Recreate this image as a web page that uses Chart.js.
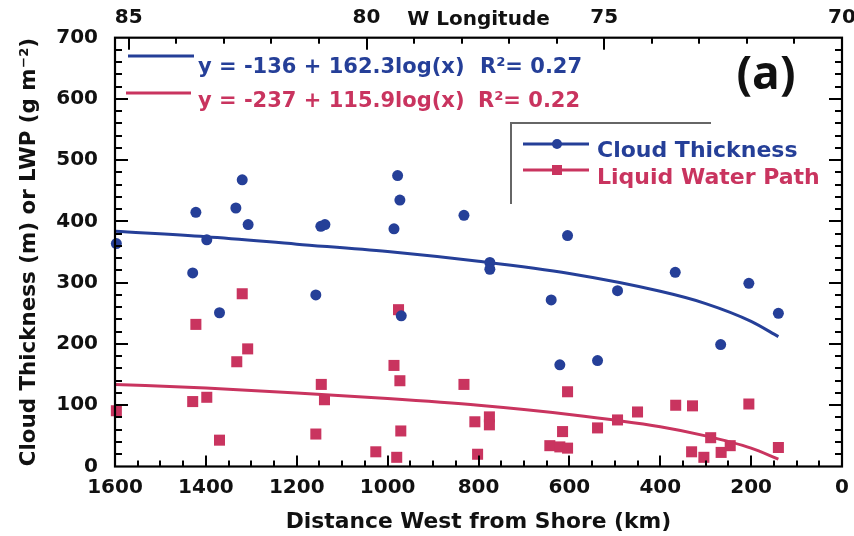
<!DOCTYPE html>
<html><head><meta charset="utf-8">
<script src="https://cdn.jsdelivr.net/npm/chart.js@4.4.1/dist/chart.umd.min.js"></script>
<style>html,body{margin:0;padding:0;background:#fff;overflow:hidden}</style>
</head><body><canvas id="c" width="854" height="536"></canvas>
<script>
// ---- data ----
const thicknessKm = [1597,1422,1320,1334,1307,1398,1429,1370,1147,1138,1158,978,973,986,832,604,775,775,640,970,367,205,494,140,267,621,538];
const thicknessM  = [364,415,468,422,395,370,316,251,392,395,280,475,435,388,410,377,333,322,272,246,317,299,287,250,199,166,173];
const lwpKm = [1320,1422,1308,1332,1597,1429,1398,1370,1146,1139,1158,976,986,973,971,980,1026,832,808,776,776,802,604,615,643,621,604,450,366,329,205,494,538,289,331,304,266,246,140];
const lwpG  = [282,232,192,171,91,106,113,43,134,109,53,256,165,140,58,15,24,134,73,81,68,20,122,57,34,32,30,89,100,99,102,76,63,47,24,15,23,34,31];
const fitKm = [1600,1400,1200,1000,800,600,400,300,200,140];
const thicknessFit = [384,375,363,351,335,315,286,266,237,212];
const lwpFit = [134,128,120,111,100,85,65,50,30,12];
const xTicks = [1600,1400,1200,1000,800,600,400,200,0];
const yTicks = [0,100,200,300,400,500,600,700];
const lonTicks = [85,80,75,70];
const seriesNames = ['Cloud Thickness','Liquid Water Path'];
const fitEquations = ['y = -136 + 162.3log(x)','y = -237 + 115.9log(x)'];
const fitR2 = ['R\u00B2= 0.27','R\u00B2= 0.22'];

const F = "'DejaVu Sans', sans-serif";
const BLUE = '#253f98';
const RED = '#c9345f';
const INK = '#111';

const pts = (xs, ys) => xs.map((x, i) => ({x, y: ys[i]}));

function drawTickMarks(chart) {
  const {ctx, chartArea: a, scales} = chart;
  const sx = scales.x, sx2 = scales.x2, sy = scales.y;
  ctx.save();
  ctx.setLineDash([]);
  ctx.globalAlpha = 1;
  ctx.lineCap = 'butt';
  ctx.fillStyle = '#000';
  // tick marks as filled rectangles (inward)
  for (let v = 50; v < 1600; v += 50) {
    const px = Math.round(sx.getPixelForValue(v));
    const len = (v % 200 === 0) ? 11 : 6;
    ctx.fillRect(px - 1, a.bottom - len, 2, len);
  }
  for (let v = 71; v <= 85; v++) {
    const px = Math.round(sx2.getPixelForValue(v));
    const len = (v % 5 === 0) ? 12 : 6;
    ctx.fillRect(px - 1, a.top, 2, len);
  }
  for (let v = 20; v < 700; v += 20) {
    const py = Math.round(sy.getPixelForValue(v));
    const len = (v % 100 === 0) ? 13 : 7;
    ctx.fillRect(a.left, py - 1, len, 2);
    ctx.fillRect(a.right - len, py - 1, len, 2);
  }
  ctx.strokeStyle = '#000';
  ctx.lineWidth = 2.2;
  ctx.strokeRect(a.left, a.top, a.right - a.left, a.bottom - a.top);
  ctx.restore();
}

const framePlugin = {
  id: 'frame',
  afterDraw(chart) {
    drawTickMarks(chart);
    const {ctx, scales} = chart;
    ctx.save();
    ctx.fillStyle = INK;
    ctx.font = "bold 20px " + F;
    ctx.textAlign = 'center';
    ctx.textBaseline = 'alphabetic';
    ctx.fillText('W Longitude', (scales.x2.left + scales.x2.right) / 2, 25);
    const eqColors = [BLUE, RED];
    const eqY = [73, 107];
    const lineY = [56, 93];
    ctx.textAlign = 'left';
    ctx.font = "bold 21px " + F;
    for (let i = 0; i < 2; i++) {
      ctx.strokeStyle = eqColors[i];
      ctx.lineWidth = 3;
      ctx.beginPath();
      ctx.moveTo(128 - i * 2, lineY[i]); ctx.lineTo(194 - i * 3, lineY[i]);
      ctx.stroke();
      ctx.fillStyle = eqColors[i];
      ctx.fillText(fitEquations[i], 198, eqY[i]);
      ctx.fillText(fitR2[i], 480 - i * 2, eqY[i]);
    }
    ctx.strokeStyle = '#666';
    ctx.lineWidth = 2;
    ctx.beginPath();
    ctx.moveTo(711, 123); ctx.lineTo(511, 123); ctx.lineTo(511, 204);
    ctx.stroke();
    const legY = [144, 170];
    const txtY = [157, 184];
    ctx.font = "bold 22px " + F;
    for (let i = 0; i < 2; i++) {
      const c = eqColors[i];
      ctx.strokeStyle = c; ctx.fillStyle = c; ctx.lineWidth = 3;
      ctx.beginPath(); ctx.moveTo(523, legY[i]); ctx.lineTo(589, legY[i]); ctx.stroke();
      ctx.beginPath();
      if (i === 0) { ctx.arc(557, legY[i], 5, 0, Math.PI * 2); ctx.fill(); }
      else { ctx.fillRect(552, legY[i] - 5, 10, 10); }
      ctx.fillText(seriesNames[i], 597, txtY[i]);
    }
    ctx.fillStyle = INK;
    ctx.font = "bold 46px 'Open Sans', sans-serif";
    ctx.textAlign = 'center';
    ctx.textBaseline = 'middle';
    ctx.fillText('(a)', 766, 76);
    ctx.restore();
  }
};

const tickFont = {family: F, size: 20, weight: 'bold'};

new Chart(document.getElementById('c'), {
  type: 'scatter',
  data: {
    datasets: [
      {label: seriesNames[0], data: pts(thicknessKm, thicknessM), pointStyle: 'circle', pointRadius: 5.5,
       backgroundColor: BLUE, borderWidth: 0, order: 0, clip: false},
      {label: seriesNames[1], data: pts(lwpKm, lwpG), pointStyle: 'rect', pointRadius: 7.8,
       backgroundColor: RED, borderWidth: 0, order: 0, clip: false},
      {label: 'fit thickness', data: pts(fitKm, thicknessFit), showLine: true, pointRadius: 0,
       borderColor: BLUE, borderWidth: 3, cubicInterpolationMode: 'monotone', order: 1},
      {label: 'fit lwp', data: pts(fitKm, lwpFit), showLine: true, pointRadius: 0,
       borderColor: RED, borderWidth: 3, cubicInterpolationMode: 'monotone', order: 1}
    ]
  },
  options: {
    responsive: false,
    animation: false,
    devicePixelRatio: 1,
    layout: {padding: {left: 0, right: 12, top: 0, bottom: 0}},
    plugins: {legend: {display: false}, tooltip: {enabled: false}},
    scales: {
      x: {
        type: 'linear', position: 'bottom', reverse: true, min: 0, max: 1600,
        afterBuildTicks: s => { s.ticks = xTicks.map(v => ({value: v})); },
        ticks: {callback: v => String(v), font: tickFont, color: INK, padding: 9, maxRotation: 0, autoSkip: false},
        grid: {display: false, drawTicks: false},
        border: {display: false},
        title: {display: true, text: 'Distance West from Shore (km)', color: INK,
                font: {family: F, size: 21.8, weight: 'bold'}, padding: {top: 0, bottom: 1}},
        afterFit: s => { s.height = 69.5; s.paddingLeft = 0; s.paddingRight = 0; }
      },
      x2: {
        type: 'linear', position: 'top', reverse: true, min: 70, max: 85.29,
        afterBuildTicks: s => { s.ticks = lonTicks.map(v => ({value: v})); },
        ticks: {callback: v => String(v), font: tickFont, color: INK, padding: 8, maxRotation: 0, autoSkip: false},
        grid: {display: false, drawTicks: false},
        border: {display: false},
        afterFit: s => { s.height = 37.7; s.paddingLeft = 0; s.paddingRight = 0; }
      },
      y: {
        type: 'linear', position: 'left', min: 0, max: 700,
        afterBuildTicks: s => { s.ticks = yTicks.map(v => ({value: v})); },
        ticks: {callback: v => String(v), font: tickFont, color: INK, padding: 17, autoSkip: false},
        grid: {display: false, drawTicks: false},
        border: {display: false},
        title: {display: true, text: 'Cloud Thickness (m) or LWP (g m\u207B\u00B2)', color: INK,
                font: {family: F, size: 21.4, weight: 'bold'}, padding: {top: 17, bottom: 0}},
        afterFit: s => { s.width = 115; s.paddingTop = 0; s.paddingBottom = 0; }
      }
    }
  },
  plugins: [framePlugin]
});
</script>
</body></html>
